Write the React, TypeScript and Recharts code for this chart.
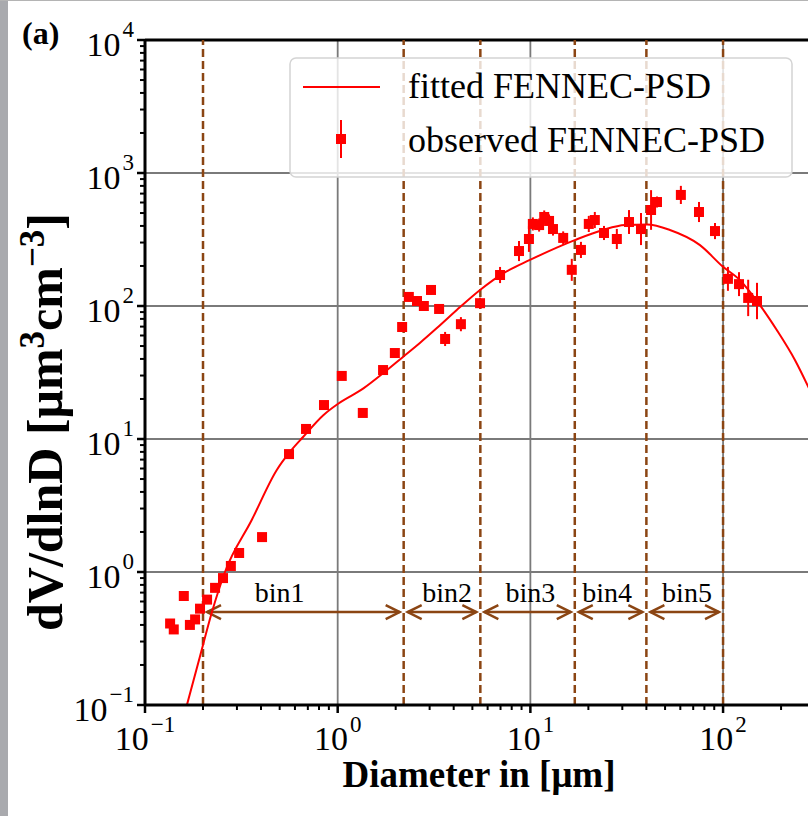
import React from "react";
import { ComposedChart, Line, Scatter, ErrorBar, XAxis, YAxis, ReferenceLine, ReferenceDot } from "recharts";

// fitted PSD curve
const fitD = [0.165, 0.193, 0.222, 0.26, 0.358, 0.483, 0.566, 0.663, 0.842, 1.01, 1.36, 1.72, 2.19, 2.67, 3.26, 4.15, 5.48, 7.23, 9.95, 17.0, 23.8, 31.0, 40.3, 53.0, 75.9, 100, 122, 155, 190, 236, 290];
const fitV = [0.1, 0.233, 0.494, 1.0, 2.46, 5.85, 8.03, 10.4, 15.1, 18.5, 24.0, 31.2, 41.6, 52.7, 67.9, 93.3, 132, 176, 222, 313, 373, 406, 410, 373, 287, 197, 157, 102, 66, 39.3, 21.4];

// observed PSD
const obsD = [0.135, 0.141, 0.159, 0.171, 0.182, 0.193, 0.21, 0.231, 0.254, 0.279, 0.308, 0.405, 0.559, 0.685, 0.849, 1.05, 1.35, 1.72, 1.98, 2.16, 2.34, 2.58, 2.8, 3.05, 3.36, 3.61, 4.36, 5.48, 6.96, 8.73, 9.83, 10.3, 11.1, 11.8, 12.5, 13.1, 14.8, 16.4, 18.3, 20.1, 21.6, 24.1, 28.1, 32.5, 37.5, 42.3, 45.4, 60.4, 75.0, 90.8, 106, 121, 135, 150];
const obsV = [0.41, 0.37, 0.66, 0.4, 0.44, 0.53, 0.62, 0.76, 0.9, 1.11, 1.39, 1.83, 7.7, 11.9, 18.0, 29.8, 15.7, 33.0, 44.3, 69.5, 117, 109, 100, 132, 95, 56.5, 73, 105, 171, 259, 319, 414, 406, 467, 436, 379, 325, 187, 264, 414, 443, 354, 319, 428, 379, 527, 605, 684, 509, 366, 160, 146, 115, 109];
// error bar spread (multiplicative) per point
const obsErr = [1.05, 1.05, 1.05, 1.05, 1.05, 1.05, 1.05, 1.05, 1.05, 1.05, 1.05, 1.05, 1.05, 1.05, 1.05, 1.05, 1.05, 1.05, 1.05, 1.08, 1.08, 1.08, 1.08, 1.08, 1.08, 1.13, 1.13, 1.1, 1.15, 1.19, 1.25, 1.12, 1.12, 1.12, 1.12, 1.12, 1.12, 1.21, 1.15, 1.15, 1.15, 1.13, 1.19, 1.23, 1.32, 1.41, 1.1, 1.17, 1.19, 1.15, 1.23, 1.23, 1.37, 1.37];

const binEdges = [0.2, 2.2, 5.5, 17, 40, 100];
const binNames = ["bin1", "bin2", "bin3", "bin4", "bin5"];
const binLabelD = [0.5, 3.7, 10, 25, 65];

const xMajor = [0.1, 1, 10, 100];
const yMajor = [0.1, 1, 10, 100, 1000, 10000];

const SERIF = "'Liberation Serif', 'Times New Roman', serif";
const RED = "#ff0000";
const BROWN = "#8B4513";

const fitData = fitD.map((x, i) => ({ x, y: fitV[i] }));
const obsData = obsD.map((x, i) => ({
  x,
  y: obsV[i],
  err: [obsV[i] - obsV[i] / obsErr[i], obsV[i] * obsErr[i] - obsV[i]],
}));

const withMinors = (majors: number[], max: number) => {
  const out: number[] = [...majors];
  majors.forEach((m) => {
    for (let k = 2; k <= 9; k++) {
      const v = Number((k * m).toPrecision(3));
      if (v <= max) out.push(v);
    }
  });
  return out.sort((a, b) => a - b);
};
const xTicks = withMinors(xMajor, 300);
const yTicks = withMinors(yMajor.slice(0, -1), 10000).concat([10000]);

const isMajor = (v: number) => Math.abs(Math.log10(v) - Math.round(Math.log10(v))) < 1e-6;
const expText = (v: number) => {
  const e = Math.round(Math.log10(v));
  return e < 0 ? `\u2212${-e}` : `${e}`;
};

const XTick = ({ x, y, payload }: any) => {
  const major = isMajor(payload.value);
  return (
    <g>
      <line x1={x} x2={x} y1={y} y2={y + (major ? 8 : 5)} stroke="#000" strokeWidth={major ? 2.5 : 2} />
      {major && (
        <text x={x} y={y + 45} textAnchor="middle" fontSize={34} fontFamily={SERIF} fill="#000">
          <tspan>10</tspan>
          <tspan dx={2} dy={-18} fontSize={23}>{expText(payload.value)}</tspan>
        </text>
      )}
    </g>
  );
};

const YTick = ({ x, y, payload }: any) => {
  const major = isMajor(payload.value);
  return (
    <g>
      <line x1={x - (major ? 8 : 5)} x2={x} y1={y} y2={y} stroke="#000" strokeWidth={major ? 2.5 : 2} />
      {major && (
        <text x={x - 11} y={y + 16} textAnchor="end" fontSize={34} fontFamily={SERIF} fill="#000">
          <tspan>10</tspan>
          <tspan dx={2} dy={-19} fontSize={23}>{expText(payload.value)}</tspan>
        </text>
      )}
    </g>
  );
};

const Square = ({ cx, cy }: any) => <rect x={cx - 5} y={cy - 5} width={10} height={10} fill={RED} />;

const Arrow = ({ x1, x2, y1 }: any) => {
  const a = x1 + 4;
  const b = x2 - 4;
  return (
    <g stroke={BROWN} strokeWidth={2.5} fill="none">
      <line x1={a} x2={b} y1={y1} y2={y1} />
      <polyline points={`${a + 14},${y1 - 7} ${a},${y1} ${a + 14},${y1 + 7}`} />
      <polyline points={`${b - 14},${y1 - 7} ${b},${y1} ${b - 14},${y1 + 7}`} />
    </g>
  );
};

const App = () => (
  <div style={{ position: "absolute", left: 0, top: 0, width: 808, height: 816, overflow: "hidden", background: "#fff" }}>
    <ComposedChart width={830} height={816} margin={{ top: 40, right: 15, bottom: 61, left: 0 }}>
      <XAxis
        dataKey="x"
        type="number"
        scale="log"
        domain={[0.1, 300]}
        allowDataOverflow
        ticks={xTicks}
        interval={0}
        tick={XTick}
        tickLine={false}
        tickSize={0}
        tickMargin={0}
        axisLine={{ stroke: "#000", strokeWidth: 3 }}
        height={50}
      />
      <YAxis
        type="number"
        scale="log"
        domain={[0.1, 10000]}
        allowDataOverflow
        ticks={yTicks}
        interval={0}
        tick={YTick}
        tickLine={false}
        tickSize={0}
        tickMargin={0}
        axisLine={{ stroke: "#000", strokeWidth: 3 }}
        width={145}
      />
      {xMajor.slice(1).map((v) => (
        <ReferenceLine key={`gx${v}`} x={v} stroke="#7a7a7a" strokeWidth={1.8} />
      ))}
      {yMajor.slice(1, -1).map((v) => (
        <ReferenceLine key={`gy${v}`} y={v} stroke="#7a7a7a" strokeWidth={1.8} />
      ))}
      <ReferenceLine y={10000} stroke="#000" strokeWidth={3} />
      {binEdges.map((v) => (
        <ReferenceLine key={`b${v}`} x={v} stroke={BROWN} strokeWidth={2.5} strokeDasharray="8 4" />
      ))}
      {binNames.map((n, i) => (
        <ReferenceLine
          key={`a${n}`}
          segment={[{ x: binEdges[i], y: 0.5 }, { x: binEdges[i + 1], y: 0.5 }]}
          shape={Arrow}
        />
      ))}
      {binNames.map((n, i) => (
        <ReferenceDot
          key={`l${n}`}
          x={binLabelD[i]}
          y={0.6}
          r={0}
          shape={(p: any) => (
            <text x={p.cx} y={p.cy} textAnchor="middle" fontSize={28} fontFamily={SERIF} fill="#000">
              {n}
            </text>
          )}
        />
      ))}
      <Line data={fitData} dataKey="y" type="monotone" stroke={RED} strokeWidth={2} dot={false} isAnimationActive={false} />
      <Scatter data={obsData} dataKey="y" fill={RED} shape={Square} isAnimationActive={false}>
        <ErrorBar dataKey="err" direction="y" width={0} stroke={RED} strokeWidth={2} />
      </Scatter>
    </ComposedChart>

    <svg width={808} height={816} style={{ position: "absolute", left: 0, top: 0, pointerEvents: "none" }}>
      <text x={22} y={44} fontSize={32} fontWeight="bold" fontFamily={SERIF} fill="#000">(a)</text>
      <text transform="translate(62,422) rotate(-90)" textAnchor="middle" fontSize={50} fontWeight="bold" fontFamily={SERIF} fill="#000">
        <tspan>dV/dlnD [μm</tspan>
        <tspan dy={-18} fontSize={35}>3</tspan>
        <tspan dy={18}>cm</tspan>
        <tspan dy={-18} fontSize={35}>{"\u22123"}</tspan>
        <tspan dy={18}>]</tspan>
      </text>
      <text x={479} y={787} textAnchor="middle" fontSize={37} fontWeight="bold" fontFamily={SERIF} fill="#000">
        Diameter in [μm]
      </text>

      <rect x={290} y={58} width={502} height={119} rx={6} fill="#fff" fillOpacity={0.8} stroke="#d4d4d4" strokeWidth={1.5} />
      <line x1={303} x2={380} y1={87} y2={87} stroke={RED} strokeWidth={2} />
      <text x={408} y={98} fontSize={36} fontFamily={SERIF} fill="#000">fitted FENNEC-PSD</text>
      <line x1={341} x2={341} y1={120} y2={158} stroke={RED} strokeWidth={2} />
      <rect x={336} y={134} width={10} height={10} fill={RED} />
      <text x={408} y={152} fontSize={36} fontFamily={SERIF} fill="#000">observed FENNEC-PSD</text>
    </svg>

    <div style={{ position: "absolute", left: 0, top: 0, width: 8, height: 816, background: "#a9aaae" }} />
    <div style={{ position: "absolute", left: 0, top: 0, width: 808, height: 1, background: "#b4b4b4" }} />
  </div>
);

export default App;
